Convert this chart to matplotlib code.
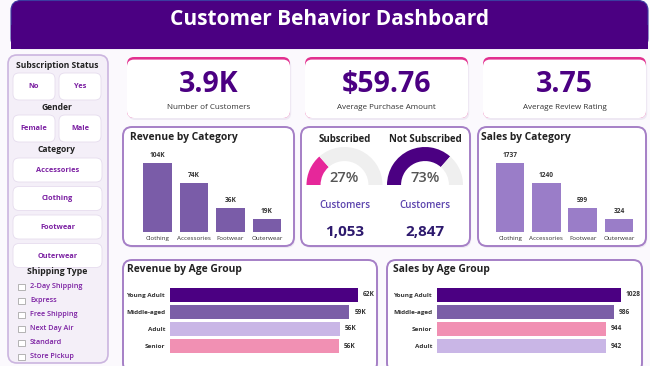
import matplotlib
matplotlib.use("Agg")
import matplotlib.pyplot as plt
from matplotlib.patches import FancyBboxPatch, Rectangle

W, H = 650, 366

# ---------------- data ----------------
title = "Customer Behavior Dashboard"
kpi_values = ["3.9K", "$59.76", "3.75"]
kpi_labels = ["Number of Customers", "Average Purchase Amount", "Average Review Rating"]
categories = ["Clothing", "Accessories", "Footwear", "Outerwear"]
revenue_by_category = [104, 74, 36, 19]          # thousands
sales_by_category = [1737, 1240, 599, 324]
subscription_labels = ["Subscribed", "Not Subscribed"]
subscription_pct = [27, 73]
subscription_customers = [1053, 2847]
rev_age_groups = ["Young Adult", "Middle-aged", "Adult", "Senior"]
revenue_by_age = [62.1, 59.2, 56.0, 55.8]        # thousands
sales_age_groups = ["Young Adult", "Middle-aged", "Senior", "Adult"]
sales_by_age = [1028, 986, 944, 942]
subscription_options = ["No", "Yes"]
gender_options = ["Female", "Male"]
category_options = ["Accessories", "Clothing", "Footwear", "Outerwear"]
shipping_types = ["2-Day Shipping", "Express", "Free Shipping", "Next Day Air",
                  "Standard", "Store Pickup"]

# ---------------- style ----------------
FONT = ["Open Sans", "DejaVu Sans"]
plt.rcParams["font.family"] = FONT
INDIGO = "#4b0082"
PINK = "#e2308f"
CARD_EDGE = "#a57fc6"
age_colors = {"Young Adult": "#4b0082", "Middle-aged": "#7b5ea7",
              "Adult": "#c9b6e6", "Senior": "#f190b3"}
gauge_colors = ["#e6279a", "#4b0082"]

fig = plt.figure(figsize=(6.5, 3.66), dpi=100)
fig.patch.set_facecolor("#fbf9fd")
bg = fig.add_axes([0, 0, 1, 1])
bg.set_xlim(0, W)
bg.set_ylim(H, 0)
bg.axis("off")


def px_axes(x0, y0, x1, y1):
    ax = fig.add_axes([x0 / W, 1 - y1 / H, (x1 - x0) / W, (y1 - y0) / H])
    ax.patch.set_alpha(0)
    for s in ax.spines.values():
        s.set_visible(False)
    return ax


def card(x0, y0, x1, y1, fc="white", ec="none", lw=0, r=8, shadow=True, z=1):
    if shadow:
        bg.add_patch(FancyBboxPatch((x0 + 1.2, y0 + 2), x1 - x0, y1 - y0,
                                    boxstyle=f"round,pad=0,rounding_size={r}",
                                    fc="#5a2a80", alpha=0.08, ec="none", zorder=z - 0.1))
    bg.add_patch(FancyBboxPatch((x0, y0), x1 - x0, y1 - y0,
                                boxstyle=f"round,pad=0,rounding_size={r}",
                                fc=fc, ec=ec, lw=lw, zorder=z))


# ---------------- title banner ----------------
bg.add_patch(FancyBboxPatch((11, 0.5), 637, 48, boxstyle="round,pad=0,rounding_size=10",
                            fc=INDIGO, ec="#3c3ca0", lw=0.8, zorder=2))
bg.add_patch(Rectangle((11, 25), 637, 24, fc=INDIGO, ec="none", zorder=2.1))
bg.text(330, 19.5, title, color="white", fontsize=15, fontweight="bold",
        ha="center", va="center", zorder=3)

# ---------------- left slicer panel ----------------
card(8, 55, 108, 363, fc="#f4eff8", ec="#cbb5df", lw=1.2, r=9, shadow=False)
PURP_TXT = "#7b1fa2"


def button(x0, y0, x1, y1, label):
    card(x0, y0, x1, y1, fc="white", ec="#e6dcee", lw=0.6, r=6, shadow=False, z=2)
    bg.text((x0 + x1) / 2, (y0 + y1) / 2 + 0.5, label, color=PURP_TXT, fontsize=5.3,
            fontweight="bold", ha="center", va="center", zorder=3)


bg.text(57, 65, "Subscription Status", fontsize=6.1, fontweight="bold",
        color="#222222", ha="center", va="center", zorder=3)
for i, lab in enumerate(subscription_options):
    button(13 + 46 * i, 73, 55 + 46 * i, 100, lab)
bg.text(57, 107, "Gender", fontsize=6.1, fontweight="bold",
        color="#222222", ha="center", va="center", zorder=3)
for i, lab in enumerate(gender_options):
    button(13 + 46 * i, 115, 55 + 46 * i, 142, lab)
bg.text(57, 150, "Category", fontsize=6.1, fontweight="bold",
        color="#222222", ha="center", va="center", zorder=3)
for i, lab in enumerate(category_options):
    button(13, 158 + 28.5 * i, 102, 182 + 28.5 * i, lab)
bg.text(57, 272, "Shipping Type", fontsize=6.3, fontweight="bold",
        color="#222222", ha="center", va="center", zorder=3)
for i, lab in enumerate(shipping_types):
    yc = 287 + 14 * i
    bg.add_patch(Rectangle((18, yc - 3.3), 6.5, 6.5, fc="white", ec="#a8a8a8",
                           lw=0.6, zorder=3))
    bg.text(30, yc, lab, fontsize=5.2, fontweight="semibold", color=PURP_TXT,
            ha="left", va="center", zorder=3)

# ---------------- KPI cards ----------------
kpi_boxes = [(127, 57, 290), (305, 57, 468), (483, 57, 646)]
for (x0, y0, x1), val, lab in zip(kpi_boxes, kpi_values, kpi_labels):
    y1 = 118
    card(x0, y0, x1, y1, fc=PINK, r=7)
    bg.add_patch(FancyBboxPatch((x0, y0 + 2.6), x1 - x0, y1 - y0 - 2.6,
                                boxstyle="round,pad=0,rounding_size=7",
                                fc="white", ec="none", zorder=1.2))
    xc = (x0 + x1) / 2
    bg.text(xc, 84, val, fontsize=20.5, fontweight="bold", color=INDIGO,
            ha="center", va="center", zorder=3)
    bg.text(xc, 107.5, lab, fontsize=5.8, color="#333333", ha="center", va="center", zorder=3)

# ---------------- middle row cards ----------------
card(123, 127, 294, 246, ec=CARD_EDGE, lw=1.4, r=9)
card(301, 127, 470, 246, ec=CARD_EDGE, lw=1.4, r=9)
card(478, 127, 646, 246, ec=CARD_EDGE, lw=1.4, r=9)
bg.text(130, 137.5, "Revenue by Category", fontsize=7.4, fontweight="bold",
        color="#222222", ha="left", va="center", zorder=3)
bg.text(481, 137.5, "Sales by Category", fontsize=7.4, fontweight="bold",
        color="#222222", ha="left", va="center", zorder=3)


def vbar(ax, values, labels, color, fmt):
    x = list(range(len(values)))
    ax.bar(x, values, width=0.79, color=color)
    ax.set_xlim(-0.5, len(values) - 0.5)
    ax.set_ylim(0, max(values) * 1.19)
    ax.set_yticks([])
    ax.set_xticks(x)
    ax.set_xticklabels(labels, fontsize=4.5, color="#333333")
    ax.tick_params(axis="x", length=0, pad=3)
    for xi, v in zip(x, values):
        ax.annotate(fmt(v), (xi, v), xytext=(0, 3), textcoords="offset points",
                    ha="center", va="bottom", fontsize=4.7, fontweight="bold",
                    color="#333333")


ax_rc = px_axes(139.25, 150, 285.25, 232)
vbar(ax_rc, revenue_by_category, categories, "#7a5ca8", lambda v: f"{v:.0f}K")
ax_sc = px_axes(492, 150, 637, 232)
vbar(ax_sc, sales_by_category, categories, "#9a7dc8", lambda v: f"{v}")

# ---------------- subscription gauges ----------------
gauge_boxes = [(306.5, 147, 382.5, 185), (387, 147, 463, 185)]
for (x0, y0, x1, y1), lab, pct, cust, col in zip(gauge_boxes, subscription_labels,
                                                  subscription_pct, subscription_customers,
                                                  gauge_colors):
    xc = (x0 + x1) / 2
    bg.text(xc, 139.5, lab, fontsize=6.9, fontweight="bold", color="#222222",
            ha="center", va="center", zorder=3)
    ax = px_axes(x0, y0, x1, y1)
    ax.pie([pct, 100 - pct, 100], colors=[col, "#efefef", "none"], startangle=180,
           counterclock=False, radius=1, wedgeprops=dict(width=0.37, edgecolor="none"))
    ax.set_xlim(-1, 1)
    ax.set_ylim(0, 1)
    ax.set_aspect("auto")
    ax.axis("off")
    bg.text(xc, 177.5, f"{pct}%", fontsize=10.5, fontweight="semibold", color="#555555",
            ha="center", va="center", zorder=3)
    bg.text(xc, 206, "Customers", fontsize=7.0, fontweight="semibold", color="#5b43ad",
            ha="center", va="center", zorder=3)
    bg.text(xc, 232, f"{cust:,}", fontsize=11, fontweight="bold", color="#2e1a6e",
            ha="center", va="center", zorder=3)

# ---------------- bottom row cards ----------------
card(123, 260, 377, 372, ec=CARD_EDGE, lw=1.4, r=9)
card(387, 260, 642, 372, ec=CARD_EDGE, lw=1.4, r=9)
bg.text(127, 269.5, "Revenue by Age Group", fontsize=7.4, fontweight="bold",
        color="#222222", ha="left", va="center", zorder=3)
bg.text(393, 269.5, "Sales by Age Group", fontsize=7.4, fontweight="bold",
        color="#222222", ha="left", va="center", zorder=3)


def hbar(ax, values, labels, xmax, fmt):
    y = list(range(len(values)))
    ax.barh(y, values, height=0.78, color=[age_colors[l] for l in labels])
    ax.set_ylim(len(values) - 0.5, -0.5)
    ax.set_xlim(0, xmax)
    ax.set_xticks([])
    ax.set_yticks(y)
    ax.set_yticklabels(labels, fontsize=4.6, fontweight="bold", color="#333333")
    ax.tick_params(axis="y", length=0, pad=3.5)
    for yi, v in zip(y, values):
        ax.annotate(fmt(v), (v, yi), xytext=(3.5, 0), textcoords="offset points",
                    ha="left", va="center", fontsize=4.7, fontweight="bold",
                    color="#333333")


ax_ra = px_axes(170, 286.5, 370, 354.5)
hbar(ax_ra, revenue_by_age, rev_age_groups, 66, lambda v: f"{v:.0f}K")
ax_sa = px_axes(437, 286.5, 637, 354.5)
hbar(ax_sa, sales_by_age, sales_age_groups, 1117, lambda v: f"{v}")

fig.savefig("out.png", dpi=100, facecolor=fig.get_facecolor())
